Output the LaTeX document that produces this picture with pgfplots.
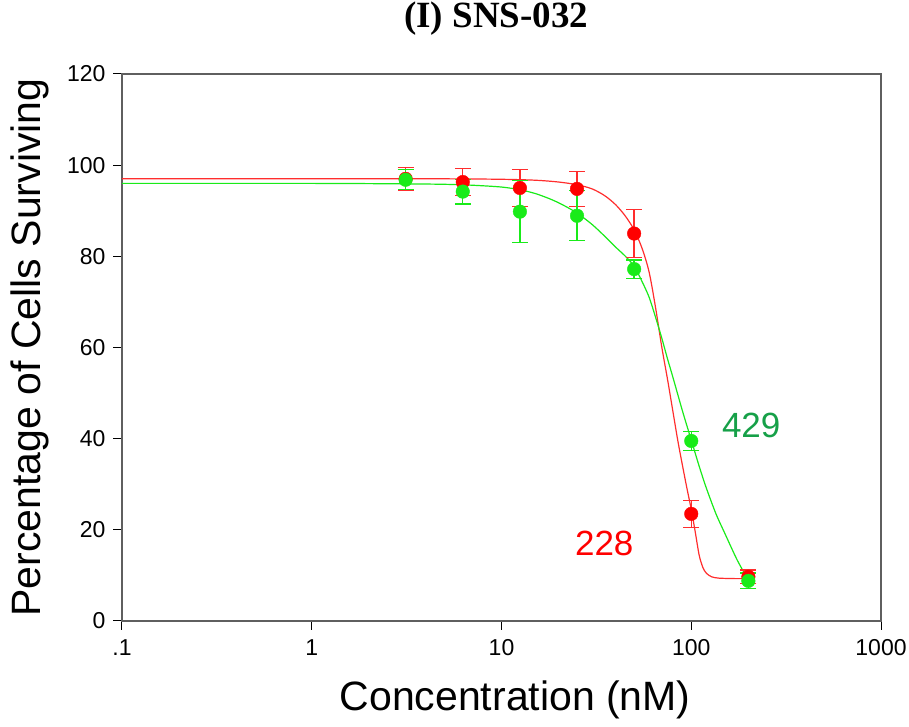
\documentclass[border=0pt]{standalone}
\usepackage{fontspec}
\setmainfont{Liberation Sans}
\newfontfamily\titlefont{Liberation Serif}
\usepackage{pgfplots}
\pgfplotsset{compat=1.18}
\definecolor{cred}{RGB}{255,45,45}
\definecolor{cgreen}{RGB}{25,235,25}
\definecolor{lblgreen}{RGB}{22,160,72}
\definecolor{framegray}{RGB}{95,95,95}

\begin{document}
\begin{tikzpicture}
\begin{axis}[
    scale only axis, width=759pt, height=547pt,
    xmode=log, xmin=0.1, xmax=1000, ymin=0, ymax=120,
    xtick={0.1,1,10,100,1000}, xticklabels={.1,1,10,100,1000},
    ytick={0,20,...,120},
    minor tick style={draw=none},
    axis line style={framegray, line width=1.6pt},
    tick style={black, line width=1pt},
    tick align=outside, major tick length=9pt,
    xtick pos=bottom, ytick pos=left,
    tick label style={font=\fontsize{23}{23}\selectfont},
    /pgf/number format/assume math mode=true,
    yticklabel style={xshift=-4pt},
    xticklabel style={yshift=-6pt},
    xlabel={Concentration (nM)},
    ylabel={Percentage of Cells Surviving},
    label style={font=\fontsize{41}{41}\selectfont},
    xlabel style={at={(axis description cs:0.518,-0.144)}, anchor=center},
    ylabel style={at={(axis description cs:-0.121,0.5)}, anchor=center},
    title={(I) SNS-032},
    title style={at={(axis description cs:0.493,1.09)}, anchor=center,
        font=\titlefont\bfseries\fontsize{37}{37}\selectfont},
    clip=false,
]
% fitted curves
\addplot[cred, line width=1.2pt, smooth, no marks] coordinates {
  (0.1,97) (1,97) (5,97) (10,96.9) (15,96.7) (20,96.3) (25,95.7) (30,94.8)
  (35,93.3) (40,91.3) (45,88.8) (50,85.8) (55,81.8) (60,76.5) (65,68.5)
  (70,60) (75,53) (80,46) (85,39.5) (90,34) (95,29) (100,24.5) (105,19.5)
  (110,14.5) (115,11.8) (120,10.5) (128,9.7) (140,9.4) (170,9.3) (200,9.3)
};
\addplot[cgreen, line width=1.2pt, smooth, no marks] coordinates {
  (0.1,96) (1,96) (3,95.9) (5,95.8) (7,95.6) (10,95.2) (12.5,94.6) (15,93.8)
  (18,92.6) (21,91.3) (25,89.5) (30,87) (35,84.4) (40,82) (45,80) (50,77.8)
  (55,74.5) (60,71) (65,66.5) (70,62) (75,57.5) (80,53.5) (90,46) (100,39.7)
  (110,34) (120,29.2) (135,23.5) (150,19.3) (175,13.3) (200,9)
};
% data with error bars
\addplot[only marks, mark=*, mark size=6.8pt, color=red,
    error bars/.cd, y dir=both, y explicit,
    error bar style={line width=1.3pt, cred},
    error mark options={rotate=90, mark size=8pt, line width=1.3pt, cred}]
coordinates {
  (3.125,97.0) +- (0,2.5)
  (6.25,96.3) +- (0,3.0)
  (12.5,95.0) +- (0,4.0)
  (25,94.8) +- (0,3.8)
  (50,85.0) +- (0,5.3)
  (100,23.5) +- (0,3.0)
  (200,9.7) +- (0,1.5)
};
\addplot[only marks, mark=*, mark size=6.8pt, color=cgreen,
    error bars/.cd, y dir=both, y explicit,
    error bar style={line width=1.3pt, cgreen},
    error mark options={rotate=90, mark size=8pt, line width=1.3pt, cgreen}]
coordinates {
  (3.125,96.8) +- (0,2.2)
  (6.25,94.2) +- (0,2.7)
  (12.5,89.8) +- (0,6.8)
  (25,88.9) +- (0,5.5)
  (50,77.2) +- (0,2.0)
  (100,39.5) +- (0,2.1)
  (200,8.8) +- (0,1.7)
};
\node[lblgreen, font=\fontsize{35}{35}\selectfont] at (axis cs:207,43) {429};
\node[red, font=\fontsize{35}{35}\selectfont] at (axis cs:34.8,17.1) {228};
\end{axis}
\pgfresetboundingbox
\path (current axis.south west) ++(-122pt,-106pt) rectangle ++(909pt,727pt);
\end{tikzpicture}
\end{document}
